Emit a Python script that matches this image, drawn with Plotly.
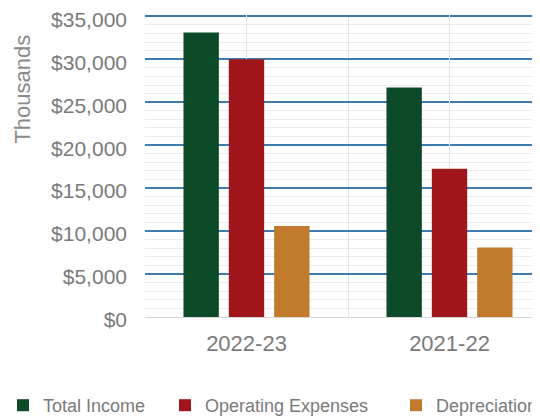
import plotly.graph_objects as go

categories = ["2022-23", "2021-22"]
total_income = [33100, 26700]
operating_expenses = [30000, 17250]
depreciation = [10600, 8100]

series_names = ["Total Income", "Operating Expenses", "Depreciation"]
series_colors = ["#0c4a28", "#a01519", "#c27b2c"]
y_tickvals = [0, 5000, 10000, 15000, 20000, 25000, 30000, 35000]
y_ticktext = [f"${v:,}" for v in y_tickvals]
y_range = [0, 35150]

FONT = "Liberation Sans, Arial, sans-serif"
TXT = "#7a7a7a"

# page body has an 8px default margin; figure sized to fill the remaining viewport
W, H = 532, 409
left, top, bottom = 137, 7.4, 99.5
plot_w = W - left
plot_h = H - top - bottom
cat_px = 203
xr = [-0.5, -0.5 + plot_w / cat_px]

legend_ids = ["legend", "legend2", "legend3"]
legend_x_px = [-5, 157, 388]

fig = go.Figure()
for name, vals, col, lg in zip(series_names, [total_income, operating_expenses, depreciation],
                               series_colors, legend_ids):
    fig.add_trace(go.Bar(x=categories, y=vals, name=name, legend=lg,
                         marker=dict(color=col, line=dict(width=0))))

# invisible helper trace for category-center vertical gridlines
fig.add_trace(go.Scatter(x=categories, y=[0, 0], xaxis="x2", mode="markers",
                         marker=dict(opacity=0), showlegend=False, hoverinfo="skip"))

legend_style = dict(orientation="h", xref="paper", yref="container",
                    y=(H - 397.5) / H, xanchor="left", yanchor="middle",
                    font=dict(size=18, color=TXT, family=FONT),
                    itemwidth=30, bgcolor="rgba(0,0,0,0)", borderwidth=0)

layout_legends = {lg: dict(legend_style, x=(px - left) / plot_w)
                  for lg, px in zip(legend_ids, legend_x_px)}

fig.update_layout(
    width=W, height=H,
    margin=dict(l=left, r=0, t=top, b=bottom, pad=0, autoexpand=False),
    paper_bgcolor="white", plot_bgcolor="white",
    barmode="group", bargap=0.33, bargroupgap=0.22,
    font=dict(family=FONT, color=TXT),
    xaxis=dict(type="category", categoryorder="array", categoryarray=categories,
               range=xr, tickson="boundaries", showgrid=True, gridcolor="#e4e4e4", gridwidth=1,
               showline=True, linecolor="#d6d6d6", linewidth=1, ticks="", ticklen=0,
               tickfont=dict(size=22, color=TXT, family=FONT), ticklabelstandoff=7,
               zeroline=False, fixedrange=True, automargin=False),
    xaxis2=dict(type="category", categoryorder="array", categoryarray=categories,
                range=xr, overlaying="x", showgrid=True, gridcolor="#e4e4e4", gridwidth=1,
                showticklabels=False, ticks="", showline=False, zeroline=False),
    yaxis=dict(range=y_range, tickmode="array", tickvals=y_tickvals, ticktext=y_ticktext,
               showgrid=True, gridcolor="#3f7bb3", gridwidth=2,
               minor=dict(dtick=1000, showgrid=True, gridcolor="#ebebeb", gridwidth=1),
               zeroline=False, showline=False, ticks="", automargin=False,
               ticklabeloverflow="allow", ticklabelshift=3,
               tickfont=dict(size=21, color=TXT, family=FONT), ticklabelstandoff=17),
    annotations=[dict(text="Thousands", xref="paper", yref="paper",
                      x=(23 - 145) / plot_w, y=(309.5 - 82) / plot_h,
                      xanchor="center", yanchor="middle", textangle=-90, showarrow=False,
                      font=dict(size=22, color="#8a8a8a", family=FONT))],
    showlegend=True,
    **layout_legends,
)

fig.write_html("out.html")
